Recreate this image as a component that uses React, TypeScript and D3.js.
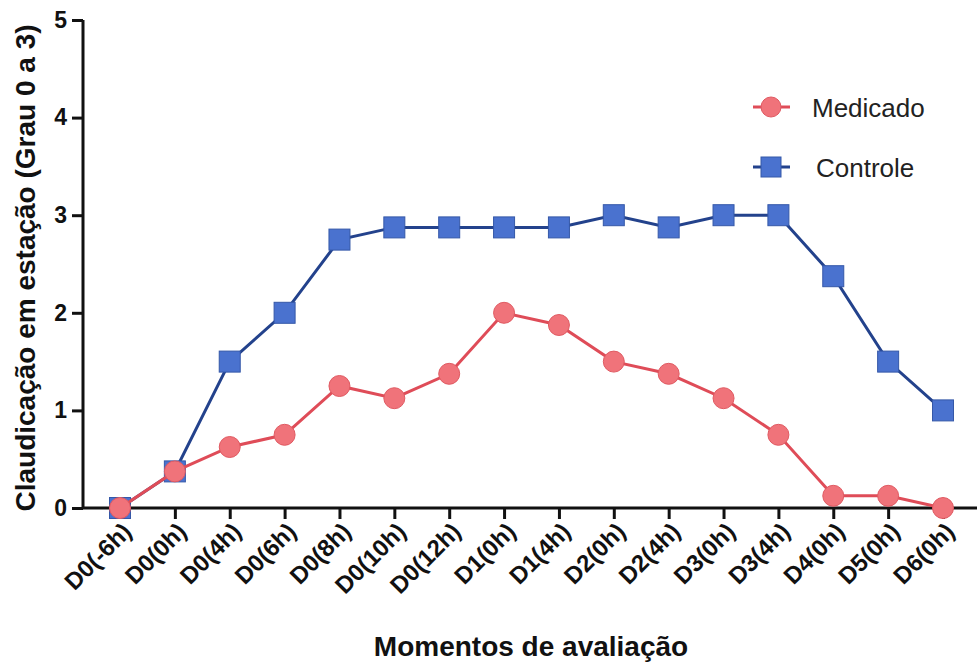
import React, { useEffect, useRef } from "react";
import * as d3 from "d3";

const categories = [
  "D0(-6h)", "D0(0h)", "D0(4h)", "D0(6h)", "D0(8h)", "D0(10h)", "D0(12h)",
  "D1(0h)", "D1(4h)", "D2(0h)", "D2(4h)", "D3(0h)", "D3(4h)", "D4(0h)",
  "D5(0h)", "D6(0h)",
];
const medicado = [0, 0.375, 0.625, 0.75, 1.25, 1.125, 1.375, 2.0, 1.875, 1.5, 1.375, 1.125, 0.75, 0.125, 0.125, 0];
const controle = [0, 0.375, 1.5, 2.0, 2.75, 2.875, 2.875, 2.875, 2.875, 3.0, 2.875, 3.0, 3.0, 2.375, 1.5, 1.0];
const yTicks = [0, 1, 2, 3, 4, 5];
const seriesNames = ["Medicado", "Controle"];

const W = 977;
const H = 667;
const FONT = "'Liberation Sans', Arial, Helvetica, sans-serif";

export default function App() {
  const ref = useRef<SVGSVGElement>(null);

  useEffect(() => {
    const svg = d3.select(ref.current);
    svg.selectAll("*").remove();

    const x = d3.scalePoint<string>().domain(categories).range([120, 943]);
    const y = d3.scaleLinear().domain([0, 5]).range([508, 20]);
    const axisX = 83;

    const blueFill = "#4a72cf";
    const blueLine = "#23428c";
    const redFill = "#f0737a";
    const redLine = "#df4c58";

    // y axis
    const gy = svg.append("g").attr("transform", `translate(${axisX},0)`);
    gy.call(
      d3.axisLeft(y).tickValues(yTicks).tickSize(11).tickPadding(5).tickFormat(d3.format("d"))
    );
    gy.select(".domain").attr("stroke", "#111").attr("stroke-width", 3).attr("d", `M0,${y(5)}V${y(0)}`);
    gy.selectAll(".tick line").attr("stroke", "#111").attr("stroke-width", 3);
    gy.selectAll(".tick text")
      .attr("font-family", FONT)
      .attr("font-weight", "bold")
      .attr("font-size", 23)
      .attr("fill", "#111");

    // x axis
    const gx = svg.append("g").attr("transform", `translate(0,${y(0)})`);
    gx.call(d3.axisBottom(x).tickSize(11).tickFormat(() => ""));
    gx.select(".domain").attr("stroke", "#111").attr("stroke-width", 3).attr("d", `M${axisX},0H${W}`);
    gx.selectAll(".tick line").attr("stroke", "#111").attr("stroke-width", 3);

    // rotated category labels
    svg
      .append("g")
      .selectAll("text")
      .data(categories)
      .join("text")
      .attr("transform", (d) => `translate(${(x(d) as number) + 13},${y(0) + 25}) rotate(-45)`)
      .attr("text-anchor", "end")
      .attr("font-family", FONT)
      .attr("font-weight", "bold")
      .attr("font-size", 24)
      .attr("fill", "#111")
      .text((d) => d);

    // axis titles
    svg
      .append("text")
      .attr("x", 531)
      .attr("y", 656)
      .attr("text-anchor", "middle")
      .attr("font-family", FONT)
      .attr("font-weight", "bold")
      .attr("font-size", 28)
      .attr("fill", "#111")
      .text("Momentos de avaliação");

    svg
      .append("text")
      .attr("transform", `translate(35,268) rotate(-90)`)
      .attr("text-anchor", "middle")
      .attr("font-family", FONT)
      .attr("font-weight", "bold")
      .attr("font-size", 28)
      .attr("fill", "#111")
      .text("Claudicação em estação (Grau 0 a 3)");

    const line = d3
      .line<number>()
      .x((_, i) => x(categories[i]) as number)
      .y((d) => y(d));

    // Controle series (squares)
    svg
      .append("path")
      .datum(controle)
      .attr("d", line)
      .attr("fill", "none")
      .attr("stroke", blueLine)
      .attr("stroke-width", 3);
    const sq = 21;
    svg
      .append("g")
      .selectAll("rect")
      .data(controle)
      .join("rect")
      .attr("x", (_, i) => (x(categories[i]) as number) - sq / 2)
      .attr("y", (d) => y(d) - sq / 2)
      .attr("width", sq)
      .attr("height", sq)
      .attr("fill", blueFill)
      .attr("stroke", "#3558a8")
      .attr("stroke-width", 1);

    // Medicado series (circles)
    svg
      .append("path")
      .datum(medicado)
      .attr("d", line)
      .attr("fill", "none")
      .attr("stroke", redLine)
      .attr("stroke-width", 3);
    svg
      .append("g")
      .selectAll("circle")
      .data(medicado)
      .join("circle")
      .attr("cx", (_, i) => x(categories[i]) as number)
      .attr("cy", (d) => y(d))
      .attr("r", 10.5)
      .attr("fill", redFill)
      .attr("stroke", "#e05a62")
      .attr("stroke-width", 1);

    // legend
    const legend = svg.append("g");
    const rows = [
      { name: seriesNames[0], cy: 107, ty: 117 },
      { name: seriesNames[1], cy: 167, ty: 177 },
    ];
    rows.forEach((r, i) => {
      legend
        .append("line")
        .attr("x1", 753)
        .attr("x2", 790)
        .attr("y1", r.cy)
        .attr("y2", r.cy)
        .attr("stroke", i === 0 ? redLine : blueLine)
        .attr("stroke-width", 3);
      if (i === 0) {
        legend
          .append("circle")
          .attr("cx", 771)
          .attr("cy", r.cy)
          .attr("r", 10)
          .attr("fill", redFill)
          .attr("stroke", "#e05a62");
      } else {
        legend
          .append("rect")
          .attr("x", 771 - 10)
          .attr("y", r.cy - 10)
          .attr("width", 20)
          .attr("height", 20)
          .attr("fill", blueFill)
          .attr("stroke", "#3558a8");
      }
      legend
        .append("text")
        .attr("x", i === 0 ? 812 : 816)
        .attr("y", r.ty)
        .attr("font-family", FONT)
        .attr("font-size", 26)
        .attr("fill", "#222")
        .text(r.name);
    });
  }, []);

  return (
    <svg
      ref={ref}
      width={W}
      height={H}
      viewBox={`0 0 ${W} ${H}`}
      style={{ position: "absolute", left: 0, top: 0, background: "#fff" }}
    />
  );
}
